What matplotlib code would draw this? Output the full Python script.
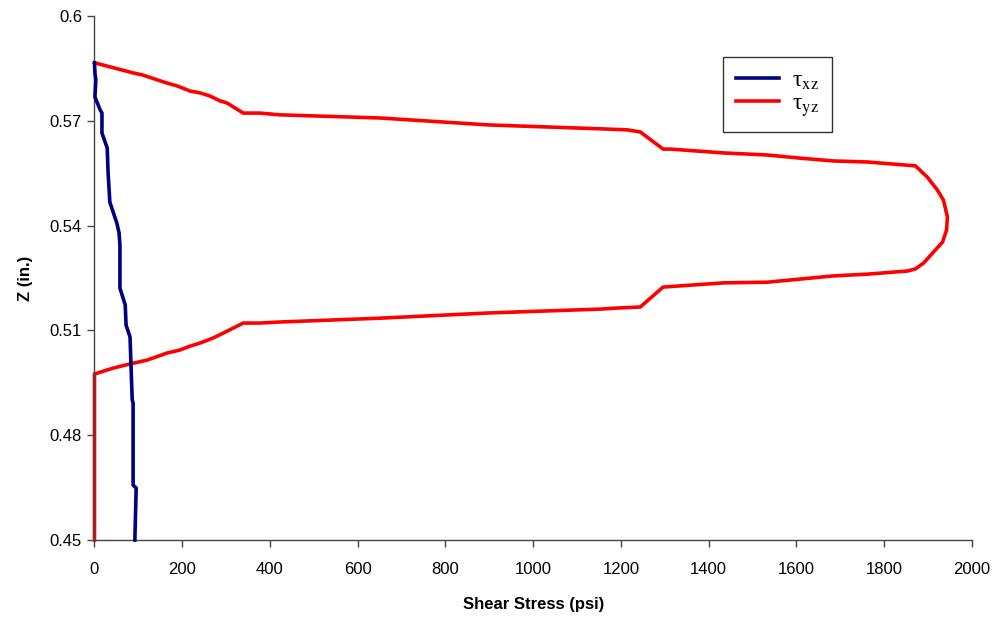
import matplotlib
matplotlib.use('Agg')
import matplotlib.pyplot as plt

plt.rcParams['font.family'] = ['Liberation Sans', 'DejaVu Sans']
plt.rcParams['mathtext.fontset'] = 'stix'

# tau_xz profile
txz_stress = [92, 95, 88, 88, 86, 83, 81, 72, 70, 58, 58, 56, 51, 35, 31, 29, 17, 17, 13, 1, 3, 1, 0]
txz_z = [0.450, 0.4649, 0.4657, 0.4892, 0.4901, 0.5007, 0.5081, 0.5115, 0.5173, 0.5221, 0.5344,
         0.5379, 0.5407, 0.5467, 0.5551, 0.5622, 0.5665, 0.5722, 0.5731, 0.5768, 0.5817, 0.5837, 0.5866]

# tau_yz profile, ordered bottom to top
tyz_stress = [0, 0, 42, 81, 120, 165, 195, 218, 241, 270, 293, 339, 377, 422, 651, 900, 1153, 1192, 1244,
              1296, 1433, 1534, 1609, 1684, 1762, 1853, 1871, 1890, 1912, 1933, 1942, 1944, 1935, 1921,
              1898, 1871, 1762, 1684, 1609, 1534, 1433, 1312, 1296, 1244, 1214, 1153, 900, 651, 422, 377,
              339, 302, 286, 263, 240, 218, 188, 165, 110, 88, 0]
tyz_z = [0.450, 0.4975, 0.4992, 0.5004, 0.5015, 0.5035, 0.5044, 0.5055, 0.5064, 0.5078, 0.5092, 0.5121,
         0.5121, 0.5124, 0.5135, 0.5150, 0.5161, 0.5164, 0.5167, 0.5224, 0.5236, 0.5238, 0.5247, 0.5256,
         0.5261, 0.5270, 0.5276, 0.5293, 0.5324, 0.5353, 0.5387, 0.5425, 0.5473, 0.5502, 0.5539, 0.5571,
         0.5582, 0.5585, 0.5593, 0.5602, 0.5608, 0.5619, 0.5619, 0.5668, 0.5674, 0.5677, 0.5688, 0.5708,
         0.5717, 0.5722, 0.5722, 0.5751, 0.5757, 0.5771, 0.5780, 0.5785, 0.5800, 0.5808, 0.5831, 0.5837,
         0.5866]

fig = plt.figure(figsize=(10.01, 6.19), dpi=100)
ax = fig.add_axes([0.0944, 0.1276, 0.8766, 0.8466])

ax.plot(txz_stress, txz_z, color='#000080', lw=2.6, label='τ$_{\\mathrm{xz}}$', clip_on=False, zorder=3)
ax.plot(tyz_stress, tyz_z, color='#FF0000', lw=2.6, label='τ$_{\\mathrm{yz}}$', clip_on=False, zorder=2)

ax.set_xlim(0, 2000)
ax.set_ylim(0.45, 0.6)
ax.set_xticks(range(0, 2001, 200))
ax.set_yticks([0.45, 0.48, 0.51, 0.54, 0.57, 0.6])
ax.set_yticklabels(['0.45', '0.48', '0.51', '0.54', '0.57', '0.6'])

for s in ['top', 'right']:
    ax.spines[s].set_visible(False)
for s in ['left', 'bottom']:
    ax.spines[s].set_color('#444444')
    ax.spines[s].set_linewidth(1.0)
ax.tick_params(direction='out', length=5, width=1, color='#444444', labelsize=12, pad=4)
ax.tick_params(axis='x', pad=11)

ax.set_xlabel('Shear Stress (psi)', fontsize=12, fontweight='bold', labelpad=14)
ax.set_ylabel('Z (in.)', fontsize=12, fontweight='bold', labelpad=12)

leg = ax.legend(loc='upper left', bbox_to_anchor=(0.716, 0.922), frameon=True,
                prop={'family': 'Liberation Serif', 'size': 17},
                fancybox=False, edgecolor='black', handlelength=1.85, borderpad=0.55,
                labelspacing=0.05, handletextpad=0.55, borderaxespad=0)
leg.get_frame().set_linewidth(1.0)

fig.savefig('out.png', dpi=100)
